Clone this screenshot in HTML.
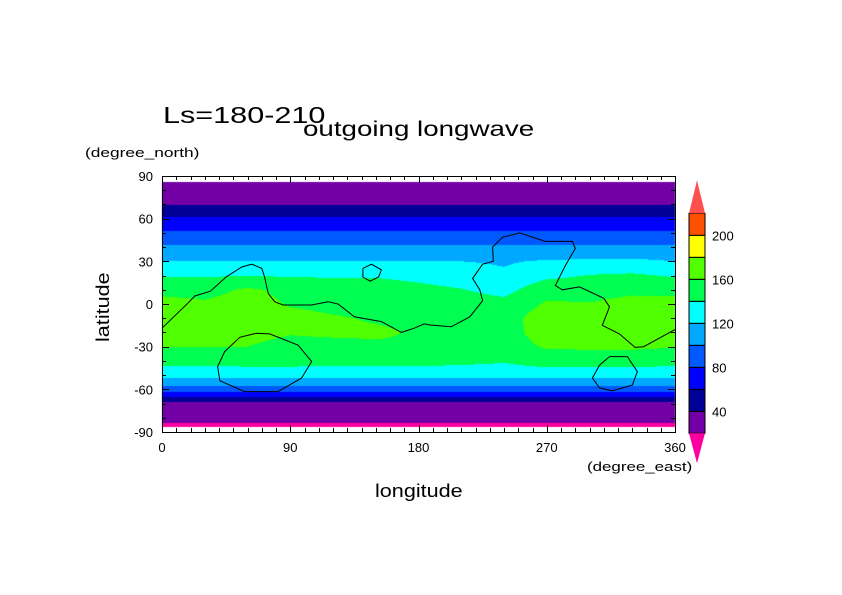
<!DOCTYPE html>
<html><head><meta charset="utf-8"><style>
html,body{margin:0;padding:0;background:#fff;}
#wrap{position:relative;width:842px;height:595px;overflow:hidden;font-family:"Liberation Sans",sans-serif;color:#000;}
.t{position:absolute;white-space:nowrap;line-height:1;transform-origin:0 0;}
canvas{position:absolute;left:0;top:0;}
svg{position:absolute;left:0;top:0;}
</style></head><body>
<div id="wrap">
<canvas id="cv" width="842" height="595"></canvas>
<svg id="sv" width="842" height="595"></svg>
<div class="t" style="left:163px;top:104px;font-size:23px;transform:scaleX(1.33);">Ls=180-210</div>
<div class="t" style="left:303px;top:119px;font-size:21px;transform:scaleX(1.32);">outgoing longwave</div>
<div class="t" style="left:85px;top:146px;font-size:13px;transform:scaleX(1.33);">(degree_north)</div>
<div class="t" style="left:587px;top:460px;font-size:13px;transform:scaleX(1.3);">(degree_east)</div>
<div class="t" style="left:375px;top:482px;font-size:18px;transform:scaleX(1.2);">longitude</div>
<div class="t" style="left:94px;top:342px;font-size:18px;transform:rotate(-90deg) scaleX(1.2);">latitude</div>
</div>
<script>
// ---- data ----
const baseLats = [-86,-80,-70,-60,-50,-40,-30,-20,-10,0,10,20,30,40,50,60,70,80,86];
const baseVals = [15,28,34,90,128,147,160,168,170,166,155,138,120,103,82,62,39,30,25];
const anomLons = [0,30,60,90,120,150,180,210,240,270,300,330,360];
const anomLats = [-40,-30,-20,-10,0,10,20,30];
const anomRowM40 = [0,0,1,1,0,0,0,-2,-5,3,2,2,0];
const anomRowM30 = [1,0,0,-8,-7,-3,-2,-4,-8,2,3,3,1];
const anomRowM20 = [0,0,0,-6,-4,-5,-10,-12,-15,0,0,0,0];
const anomRowM10 = [0,0,0,-3,-8,-12,-14,-15,-18,0,0,0,0];
const anomRow0 = [0,-3,3,-8,-12,-14,-14,-16,-19,-4,-5,0,0];
const anomRow10 = [0,-2,8,0,-4,-5,-10,-14,-22,-1,-3,1,0];
const anomRow20 = [0,0,2,0,0,0,-3,-8,-15,-3,3,5,0];
const anomRow30 = [0,0,0,0,0,0,0,0,-2,2,3,4,0];
const anomRows = [anomRowM40,anomRowM30,anomRowM20,anomRowM10,anomRow0,anomRow10,anomRow20,anomRow30];
const levels = [20,40,60,80,100,120,140,160,180,200,220];
const colors = ["#ff00a0","#7300a6","#000096","#0000ff","#0058ff","#00a8ff","#00ffff","#00ff50","#50ff00","#ffff00","#ff5000","#ff5050"];
const cbLabels = [40,80,120,160,200];
const xTicks = [0,90,180,270,360];
const yTicks = [-90,-60,-30,0,30,60,90];
// contour lines (lon, lat)
const coastLon = [0,18,23,34,45,56,63,70,72,74.5,79,85,105,116.5,123.5,135,154,168,177,184,188,203,216,225,223,218,225,232.5,232,239,251,269,288,290,283,276,281,293,310,314,309,321,332,338,360];
const coastLat = [-17,0.5,5.6,9,19,26,28,25,19,7.5,1.6,-0.7,-0.7,1.6,0,-9,-12.4,-20,-17,-14,-14.8,-16,-9,2.3,10,18,28,30,40,47,50,44,44,39,27,13,10,12,4,-2,-15,-21,-30.5,-30,-18];
const loopALon = [66,75.6,95.5,105,98,81.5,58,40.6,39,44,54.6,66];
const loopALat = [-20.6,-21,-29,-40.5,-52,-61.6,-61.6,-54,-44,-33.5,-23.4,-20.6];
const loopBLon = [314,326.6,333.6,330,316,307,302,307,314];
const loopBLat = [-37,-37,-47.6,-57,-61,-59,-52,-43,-37];
const islLon = [141,147,154,152,146,141,141];
const islLat = [25,28,24,19,16,19,25];

// ---- axes ----
const X0=162, X1=675, Y0=176, Y1=432;
const xs = lon => X0 + (lon/360)*(X1-X0);
const ys = lat => Y0 + ((90-lat)/180)*(Y1-Y0);
const lonInv = x => (x-X0)/(X1-X0)*360;
const latInv = y => 90 - (y-Y0)/(Y1-Y0)*180;

function interp1(xa, ya, x){
  if(x<=xa[0]) return ya[0];
  for(let i=1;i<xa.length;i++){ if(x<=xa[i]){ const t=(x-xa[i-1])/(xa[i]-xa[i-1]); return ya[i-1]+t*(ya[i]-ya[i-1]); } }
  return ya[ya.length-1];
}
function anom(lon, lat){
  if(lat<=anomLats[0]-10 || lat>=anomLats[anomLats.length-1]+10) return 0;
  const colVals = anomRows.map(r=>interp1(anomLons,r,lon));
  const la=[anomLats[0]-10].concat(anomLats,[anomLats[anomLats.length-1]+10]);
  const va=[0].concat(colVals,[0]);
  return interp1(la,va,lat);
}
function value(lon, lat){ return interp1(baseLats,baseVals,lat)+anom(lon,lat); }
function colorOf(v){ let k=0; while(k<levels.length && v>=levels[k]) k++; return colors[k]; }

// fill
const ctx = document.getElementById('cv').getContext('2d');
const latTop=86, latBot=-86.5;
for(let y=Math.round(ys(latTop)); y<Math.round(ys(latBot)); y++){
  const lat=latInv(y+0.5);
  for(let x=X0; x<X1; x++){
    ctx.fillStyle=colorOf(value(lonInv(x+0.5),lat));
    ctx.fillRect(x,y,1,1);
  }
}

const NS='http://www.w3.org/2000/svg';
const sv=document.getElementById('sv');
function el(tag, attrs, parent){ const e=document.createElementNS(NS,tag); for(const k in attrs) e.setAttribute(k,attrs[k]); (parent||sv).appendChild(e); return e; }
function poly(lons,lats,name){
  const p=el('polyline',{points:lons.map((l,i)=>xs(l).toFixed(1)+','+ys(lats[i]).toFixed(1)).join(' '),fill:'none',stroke:'#000','stroke-width':1});
  
  
}
poly(coastLon,coastLat,'topography-contour-main');
poly(islLon,islLat,'topography-contour-island');
poly(loopALon,loopALat,'topography-contour-south-a');
poly(loopBLon,loopBLat,'topography-contour-south-b');

// frame
const fr=el('rect',{x:X0+0.5,y:Y0+0.5,width:X1-X0,height:Y1-Y0,fill:'none',stroke:'#000','stroke-width':1});


// ticks
for(let lon=0; lon<=360; lon+=10){
  const L = lon%90===0?7:4, x=Math.round(xs(lon))+0.5;
  el('line',{x1:x,y1:Y1,x2:x,y2:Y1-L,stroke:'#000'});
  el('line',{x1:x,y1:Y0,x2:x,y2:Y0+L,stroke:'#000'});
}
for(let lat=-90; lat<=90; lat+=10){
  const L = lat%30===0?7:4, y=Math.round(ys(lat))+0.5;
  el('line',{x1:X0,y1:y,x2:X0+L,y2:y,stroke:'#000'});
  el('line',{x1:X1,y1:y,x2:X1-L,y2:y,stroke:'#000'});
}
xTicks.forEach(v=>{
  const t=el('text',{x:xs(v),y:452,'text-anchor':'middle','font-size':13,'font-family':'Liberation Sans, sans-serif'});
  t.textContent=v;
  
  
});
yTicks.forEach(v=>{
  const t=el('text',{x:153,y:ys(v)+5,'text-anchor':'end','font-size':13,'font-family':'Liberation Sans, sans-serif'});
  t.textContent=v;
  
  
});

// colorbar
const CX0=689, CX1=705, CB_TOP=213.3, CB_STEP=22;
const nb=levels.length-1;
const cbY = lev => CB_TOP + (levels[levels.length-1]-lev)/20*CB_STEP;
for(let k=1;k<=nb;k++){
  const r=el('rect',{x:CX0,y:cbY(levels[k]),width:CX1-CX0,height:CB_STEP,fill:colors[k],stroke:'#000','stroke-width':1});
  
  
}
const triTop=el('polygon',{points:`${CX0},${cbY(220)} ${CX1},${cbY(220)} ${(CX0+CX1)/2},${cbY(220)-33}`,fill:colors[colors.length-1]});


const triBot=el('polygon',{points:`${CX0},${cbY(20)} ${CX1},${cbY(20)} ${(CX0+CX1)/2},${cbY(20)+30}`,fill:colors[0]});


cbLabels.forEach(v=>{
  const t=el('text',{x:712,y:cbY(v)+5,'font-size':13,'font-family':'Liberation Sans, sans-serif'});
  t.textContent=v;
  
  
});
</script>
</body></html>
